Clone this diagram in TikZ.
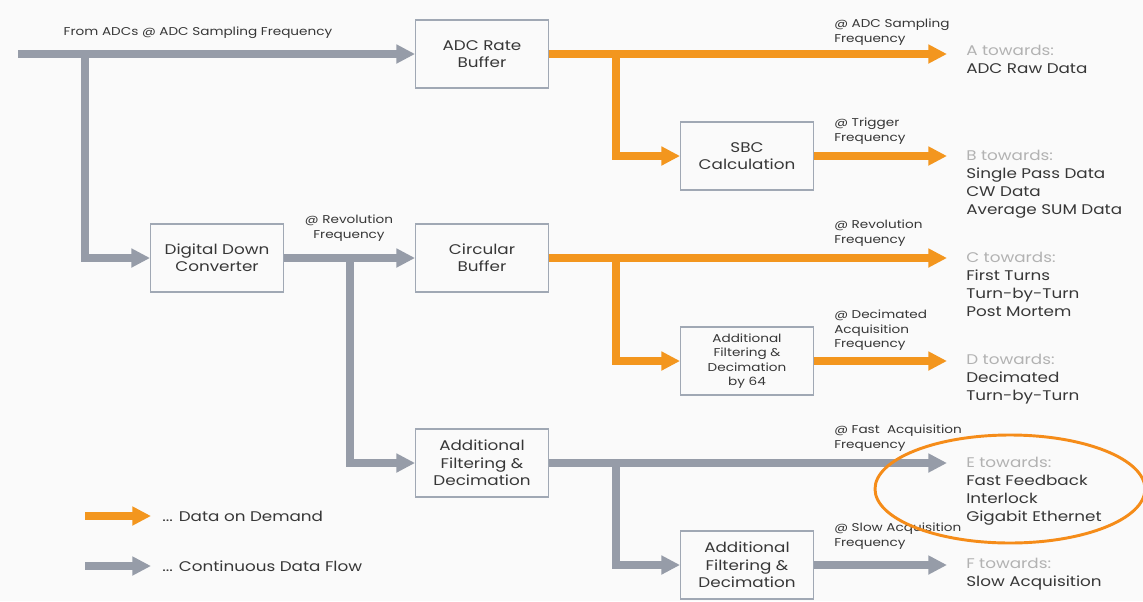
\documentclass[tikz,border=0pt]{standalone}
\usepackage{fontspec}
\setmainfont{Poppins}[FakeStretch=1.2]
\usetikzlibrary{arrows.meta}

\definecolor{flowgray}{RGB}{150,156,168}
\definecolor{demand}{RGB}{243,150,30}
\definecolor{boxline}{RGB}{160,168,180}
\definecolor{ink}{RGB}{55,55,55}
\definecolor{dim}{RGB}{178,178,178}
\definecolor{ring}{RGB}{245,140,25}
\definecolor{paper}{RGB}{250,250,250}

\tikzset{
  flow/.style={line width=6.4pt, line join=miter,
    -{Triangle[length=14pt,width=13.5pt]}},
  gflow/.style={flow, draw=flowgray},
  oflow/.style={flow, draw=demand},
  stage/.style={draw=boxline, line width=0.9pt, fill=paper,
    minimum width=99.5pt, minimum height=51pt, inner sep=0pt,
    align=center, text=ink, font=\fontsize{10.5}{13}\selectfont},
  smallstage/.style={stage, font=\fontsize{8.5}{10.8}\selectfont},
  rate/.style={anchor=north west, inner sep=0pt, align=left, text=ink,
    font=\fontsize{8.5}{10.9}\selectfont},
  dest/.style={anchor=north west, inner sep=0pt, align=left, text=ink,
    font=\fontsize{10.5}{13.5}\selectfont},
  legendtext/.style={anchor=west, inner sep=0pt, text=ink,
    font=\fontsize{10.5}{13.5}\selectfont},
}

\begin{document}
\begin{tikzpicture}[x=0.75pt,y=-0.75pt]
  % page
  \fill[paper] (0,0) rectangle (1143,601);
  \useasboundingbox (0,0) rectangle (1143,601);

  % processing stages
  \node[stage] (adc)   at (482,54)  {ADC Rate\\Buffer};
  \node[stage] (ddc)   at (217,258) {Digital Down\\Converter};
  \node[stage] (circ)  at (482,258) {Circular\\Buffer};
  \node[stage] (filt)  at (482,463) {Additional\\Filtering \&\\Decimation};
  \node[stage] (sbc)   at (747,156) {SBC\\Calculation};
  \node[smallstage] (dec64) at (747,361) {Additional\\Filtering \&\\Decimation\\by 64};
  \node[stage] (slow)  at (747,565) {Additional\\Filtering \&\\Decimation};

  % free ends and junctions
  \coordinate (in)  at (18,54);
  \coordinate (jin) at (85,54);
  \coordinate (jddc) at (350,258);
  \coordinate (jadc) at (616,54);
  \coordinate (jcirc) at (616,258);
  \coordinate (jfilt) at (616,463);
  \coordinate (outA) at (947,54);
  \coordinate (outB) at (947,156);
  \coordinate (outC) at (947,258);
  \coordinate (outD) at (947,361);
  \coordinate (outE) at (947,463);
  \coordinate (outF) at (947,565);

  % continuous data flow
  \draw[gflow] (in) -- (adc.west);
  \draw[gflow] (jin) |- (ddc.west);
  \draw[gflow] (ddc.east) -- (circ.west);
  \draw[gflow] (jddc) |- (filt.west);
  \draw[gflow] (filt.east) -- (outE);
  \draw[gflow] (jfilt) |- (slow.west);
  \draw[gflow] (slow.east) -- (outF);

  % data on demand
  \draw[oflow] (adc.east) -- (outA);
  \draw[oflow] (jadc) |- (sbc.west);
  \draw[oflow] (sbc.east) -- (outB);
  \draw[oflow] (circ.east) -- (outC);
  \draw[oflow] (jcirc) |- (dec64.west);
  \draw[oflow] (dec64.east) -- (outD);

  % rate labels
  \node[rate, anchor=center, align=center] (lin) at (198,33) {From ADCs @ ADC Sampling Frequency};
  \node[rate, anchor=north, align=center] (lrev) at (349,215) {@ Revolution\\Frequency};
  \node[rate] (lA) at (834,19)  {@ ADC Sampling\\Frequency};
  \node[rate] (lB) at (834,118) {@ Trigger\\Frequency};
  \node[rate] (lC) at (834,220) {@ Revolution\\Frequency};
  \node[rate] (lD) at (834,310) {@ Decimated\\Acquisition\\Frequency};
  \node[rate] (lE) at (834,425) {@ Fast\ \ Acquisition\\Frequency};
  \node[rate] (lF) at (834,523) {@ Slow Acquisition\\Frequency};

  % destinations
  \node[dest] (dA) at (966,45)  {\textcolor{dim}{A towards:}\\ADC Raw Data};
  \node[dest] (dB) at (966,150) {\textcolor{dim}{B towards:}\\Single Pass Data\\CW Data\\Average SUM Data};
  \node[dest] (dC) at (966,252) {\textcolor{dim}{C towards:}\\First Turns\\Turn-by-Turn\\Post Mortem};
  \node[dest] (dD) at (966,354) {\textcolor{dim}{D towards:}\\Decimated\\Turn-by-Turn};
  \node[dest] (dE) at (966,457) {\textcolor{dim}{E towards:}\\Fast Feedback\\Interlock\\Gigabit Ethernet};
  \node[dest] (dF) at (966,558) {\textcolor{dim}{F towards:}\\Slow Acquisition};

  % highlight around the fast outputs
  \draw[ring, line width=2.2pt] (1010,489) ellipse [x radius=135, y radius=54];

  % legend
  \coordinate (lgo1) at (85,516);
  \coordinate (lgo2) at (151,516);
  \coordinate (lgg1) at (85,566);
  \coordinate (lgg2) at (151,566);
  \draw[oflow] (lgo1) -- (lgo2);
  \draw[gflow] (lgg1) -- (lgg2);
  \node[legendtext] (lgot) at (162,516) {... Data on Demand};
  \node[legendtext] (lggt) at (162,566) {... Continuous Data Flow};
\end{tikzpicture}
\end{document}
